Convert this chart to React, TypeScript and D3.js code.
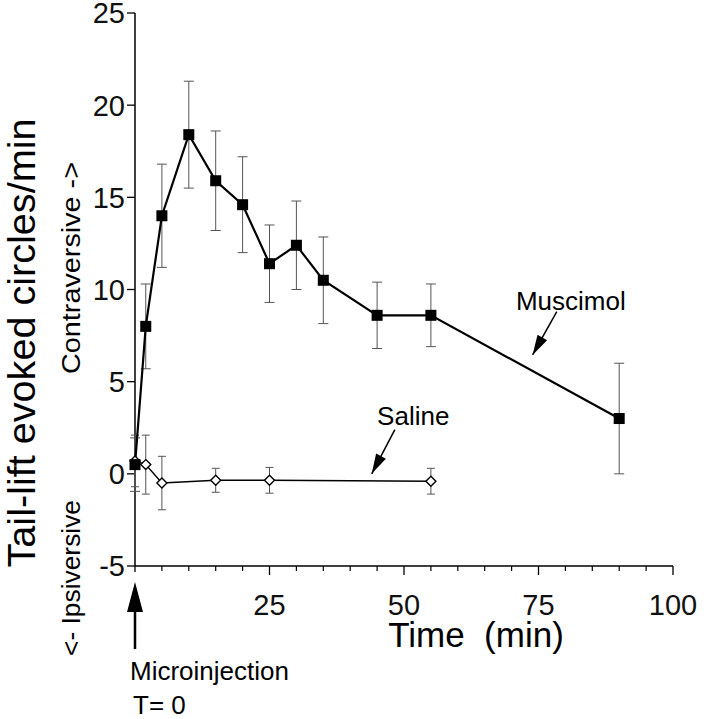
import React from "react";
import * as d3 from "d3";

const muscimolTime = [0, 2, 5, 10, 15, 20, 25, 30, 35, 45, 55, 90];
const muscimolMean = [0.5, 8.0, 14.0, 18.4, 15.9, 14.6, 11.4, 12.4, 10.5, 8.6, 8.6, 3.0];
const muscimolErr = [1.45, 2.3, 2.8, 2.9, 2.7, 2.6, 2.1, 2.4, 2.35, 1.8, 1.7, 3.0];

const salineTime = [0, 2, 5, 15, 25, 55];
const salineMean = [0.7, 0.5, -0.5, -0.35, -0.35, -0.4];
const salineErr = [1.4, 1.6, 1.45, 0.65, 0.7, 0.7];

const xMajorTicks = [25, 50, 75, 100];
const yTicks = [-5, 0, 5, 10, 15, 20, 25];

const W = 704;
const H = 719;
const FONT = "'Liberation Sans', Arial, Helvetica, sans-serif";

function arrowHead(x1: number, y1: number, x2: number, y2: number, len: number, half: number) {
  const dx = x2 - x1, dy = y2 - y1;
  const L = Math.hypot(dx, dy);
  const ux = dx / L, uy = dy / L;
  const bx = x2 - ux * len, by = y2 - uy * len;
  const px = -uy, py = ux;
  return `M${x2},${y2}L${bx + px * half},${by + py * half}L${bx - px * half},${by - py * half}Z`;
}

export default function App() {
  const x = d3.scaleLinear().domain([0, 100]).range([135, 673]);
  const y = d3.scaleLinear().domain([-5, 25]).range([566, 13]);

  const muscimol = muscimolTime.map((t, i) => ({ t, v: muscimolMean[i], e: muscimolErr[i] }));
  const saline = salineTime.map((t, i) => ({ t, v: salineMean[i], e: salineErr[i] }));

  const line = d3.line<{ t: number; v: number }>().x(d => x(d.t)).y(d => y(d.v));
  const minorTicks = d3.range(5, 101, 5).filter(v => !xMajorTicks.includes(v));

  const x0 = x(0);
  const yBase = y(-5);

  const salArrow = { x1: x(48.3), y1: y(2.4), x2: x(44), y2: y(0) };
  const musArrow = { x1: x(78.4), y1: y(8.8), x2: x(73.9), y2: y(6.45) };

  return (
    <svg width={W} height={H} style={{ position: "absolute", left: 0, top: 0, background: "#fff" }} fontFamily={FONT}>
      <rect x={0} y={0} width={W} height={H} fill="#fff" />
      <line x1={x0} y1={y(25)} x2={x0} y2={yBase} stroke="#000" strokeWidth={1.5} />
      <line x1={x0} y1={yBase} x2={x(100)} y2={yBase} stroke="#000" strokeWidth={1.5} />
      {yTicks.map(v => (
        <g key={"yt" + v}>
          <line x1={x0 - 8} x2={x0} y1={y(v)} y2={y(v)} stroke="#000" strokeWidth={1.3} />
          <text x={x0 - 10} y={y(v)} dy="0.36em" textAnchor="end" fontSize={29} fill="#111">{v}</text>
        </g>
      ))}
      <line x1={x0} x2={x0} y1={yBase} y2={yBase + 6} stroke="#000" strokeWidth={1.3} />
      {minorTicks.map(v => (
        <line key={"mt" + v} x1={x(v)} x2={x(v)} y1={yBase} y2={yBase + 5} stroke="#000" strokeWidth={1.2} />
      ))}
      {xMajorTicks.map(v => (
        <g key={"xt" + v}>
          <line x1={x(v)} x2={x(v)} y1={yBase} y2={yBase + 9} stroke="#000" strokeWidth={1.3} />
          <text x={x(v)} y={yBase + 49} textAnchor="middle" fontSize={29} fill="#111">{v}</text>
        </g>
      ))}

      <text x={476} y={647} textAnchor="middle" fontSize={35} fill="#000" style={{ whiteSpace: "pre" }}>{"Time\u00a0\u00a0(min)"}</text>
      <text transform={`translate(35,343) rotate(-90)`} textAnchor="middle" fontSize={38} textLength={449} lengthAdjust="spacingAndGlyphs" fill="#000">Tail-lift evoked circles/min</text>
      <text transform={`translate(80,268) rotate(-90)`} textAnchor="middle" fontSize={26} textLength={212} lengthAdjust="spacingAndGlyphs" fill="#000">Contraversive -&gt;</text>
      <text transform={`translate(80,578) rotate(-90)`} textAnchor="middle" fontSize={26} textLength={156} lengthAdjust="spacingAndGlyphs" fill="#000">&lt;- Ipsiversive</text>

      <line x1={x0} x2={x0} y1={649} y2={600} stroke="#000" strokeWidth={2.5} />
      <path d={arrowHead(x0, 649, x0, 582, 30, 8)} fill="#000" />
      <text x={130} y={680} fontSize={26} fill="#000">Microinjection</text>
      <text x={133} y={714} fontSize={26} fill="#000">T= 0</text>

      {muscimol.map((d, i) => (
        <g key={"me" + i} stroke="#555" strokeWidth={1}>
          <line x1={x(d.t)} x2={x(d.t)} y1={y(d.v + d.e)} y2={y(d.v - d.e)} />
          <line x1={x(d.t) - 5} x2={x(d.t) + 5} y1={y(d.v + d.e)} y2={y(d.v + d.e)} />
          <line x1={x(d.t) - 5} x2={x(d.t) + 5} y1={y(d.v - d.e)} y2={y(d.v - d.e)} />
        </g>
      ))}
      {saline.map((d, i) => (
        <g key={"se" + i} stroke="#555" strokeWidth={1}>
          <line x1={x(d.t)} x2={x(d.t)} y1={y(d.v + d.e)} y2={y(d.v - d.e)} />
          <line x1={x(d.t) - 4} x2={x(d.t) + 4} y1={y(d.v + d.e)} y2={y(d.v + d.e)} />
          <line x1={x(d.t) - 4} x2={x(d.t) + 4} y1={y(d.v - d.e)} y2={y(d.v - d.e)} />
        </g>
      ))}

      <path d={line(saline) || ""} fill="none" stroke="#000" strokeWidth={1.4} />
      <path d={line(muscimol) || ""} fill="none" stroke="#000" strokeWidth={2.2} />

      {saline.map((d, i) => (
        <path key={"sm" + i} d={`M${x(d.t)},${y(d.v) - 5}L${x(d.t) + 5},${y(d.v)}L${x(d.t)},${y(d.v) + 5}L${x(d.t) - 5},${y(d.v)}Z`} fill="#fff" stroke="#000" strokeWidth={1.4} />
      ))}
      {muscimol.map((d, i) => (
        <rect key={"mm" + i} x={x(d.t) - 5.5} y={y(d.v) - 5.5} width={11} height={11} fill="#000" />
      ))}

      <text x={x(70.8)} y={y(8.9)} fontSize={26} fill="#000">Muscimol</text>
      <line x1={musArrow.x1} y1={musArrow.y1} x2={musArrow.x2} y2={musArrow.y2} stroke="#000" strokeWidth={1.5} />
      <path d={arrowHead(musArrow.x1, musArrow.y1, musArrow.x2, musArrow.y2, 20, 5.5)} fill="#000" />
      <text x={x(45)} y={y(2.66)} fontSize={26} fill="#000">Saline</text>
      <line x1={salArrow.x1} y1={salArrow.y1} x2={salArrow.x2} y2={salArrow.y2} stroke="#000" strokeWidth={1.5} />
      <path d={arrowHead(salArrow.x1, salArrow.y1, salArrow.x2, salArrow.y2, 20, 5.5)} fill="#000" />
    </svg>
  );
}
